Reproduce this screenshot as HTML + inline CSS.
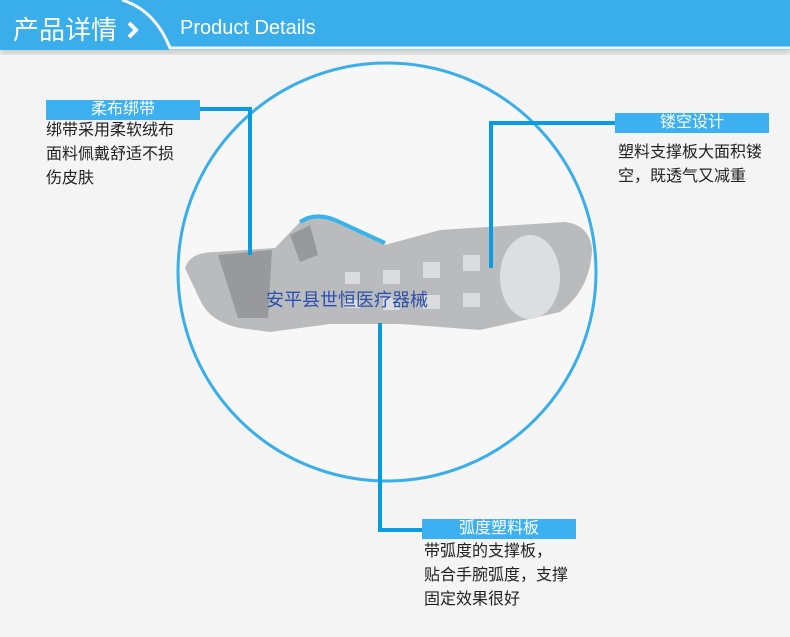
<!DOCTYPE html>
<html><head><meta charset="utf-8"><style>
body{margin:0;width:790px;height:637px;background:#f4f4f4;position:relative;overflow:hidden;font-family:"Liberation Sans","Noto Sans CJK SC",sans-serif}
.t{position:absolute;font-size:16px;color:#222;line-height:24px}
.lb{position:absolute;background:#3cb0f0;color:#fff;font-size:16px;text-align:center;height:20px;line-height:20px}
</style></head><body>
<svg width="790" height="637" style="position:absolute;left:0;top:0">
<defs><filter id="s"><feGaussianBlur stdDeviation="3"/></filter></defs>
<rect x="0" y="46" width="790" height="8" fill="#ccc" filter="url(#s)"/>
<rect x="0" y="0" width="790" height="50" fill="#3aaeea"/>
<path d="M122 0 Q155 10 170 48 L790 48" stroke="#f4f4f4" stroke-width="3" fill="none"/>
<polyline points="129,23 136,30 129,37" stroke="#fff" stroke-width="4" fill="none"/>
<circle cx="387" cy="272" r="209" fill="#f7f7f7" stroke="#3aaeea" stroke-width="3"/>
<path d="M185 268 Q190 252 215 252 L275 248 L300 222 Q320 215 330 220 L385 245 L440 230 L565 222 Q590 225 592 250 Q590 290 560 312 L480 330 L400 324 L330 324 L270 332 L240 328 Q210 322 200 300 Z" fill="#b9bbbd"/>
<path d="M300 222 Q315 212 335 220 L385 243" stroke="#3ab3ea" stroke-width="4" fill="none"/>
<ellipse cx="530" cy="277" rx="30" ry="42" fill="#dcdee0"/>
<g fill="#dadcde"><rect x="345" y="272" width="15" height="12"/><rect x="383" y="270" width="17" height="14"/><rect x="423" y="262" width="17" height="16"/><rect x="463" y="255" width="17" height="16"/><rect x="345" y="300" width="15" height="8"/><rect x="383" y="298" width="17" height="12"/><rect x="423" y="295" width="17" height="14"/><rect x="463" y="293" width="17" height="14"/></g>
<path d="M218 255 L272 250 L268 318 L238 318 Z" fill="#98999b"/>
<path d="M290 235 L310 225 L318 255 L300 262Z" fill="#98999b"/>
<polyline points="200,109 250,109 250,255" stroke="#0a9be0" stroke-width="4" fill="none"/>
<polyline points="615,123 491,123 491,268" stroke="#0a9be0" stroke-width="4" fill="none"/>
<polyline points="380,323 380,530 422,530" stroke="#0a9be0" stroke-width="4" fill="none"/>
</svg>
<div style="position:absolute;left:13px;top:10px;font-size:26px;color:#fff">产品详情</div>
<div style="position:absolute;left:180px;top:17px;font-size:20px;color:#fff">Product Details</div>
<div style="position:absolute;left:266px;top:286px;font-size:18px;color:#2a4fae">安平县世恒医疗器械</div>
<div class="lb" style="left:46px;top:100px;width:154px">柔布绑带</div>
<div class="t" style="left:46px;top:119px">绑带采用柔软绒布<br>面料佩戴舒适不损<br>伤皮肤</div>
<div class="lb" style="left:615px;top:113px;width:154px">镂空设计</div>
<div class="t" style="left:618px;top:141px">塑料支撑板大面积镂<br>空，既透气又减重</div>
<div class="lb" style="left:422px;top:519px;width:154px">弧度塑料板</div>
<div class="t" style="left:424px;top:540px">带弧度的支撑板，<br>贴合手腕弧度，支撑<br>固定效果很好</div>
</body></html>
